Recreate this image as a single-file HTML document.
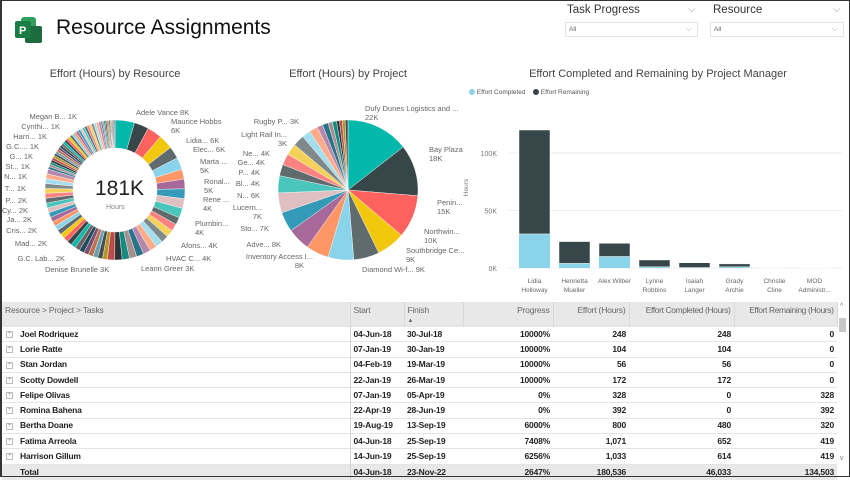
<!DOCTYPE html>
<html><head><meta charset="utf-8">
<style>
*{box-sizing:border-box;margin:0;padding:0}
body{width:850px;height:477px;overflow:hidden;background:#fff;font-family:"Liberation Sans",sans-serif;position:relative;color:#333}
#frame{position:absolute;left:0;top:0;width:850px;height:477px;border:1px solid #333;border-left:2px solid #333;z-index:5;pointer-events:none}
.abs{position:absolute;white-space:nowrap}
.lbl{position:absolute;font-size:7.5px;color:#666;white-space:nowrap;line-height:9px}
.r{text-align:right}
.ctitle{position:absolute;font-size:11px;color:#444;white-space:nowrap;transform:translateX(-50%)}
table{position:absolute;left:2px;top:302px;width:835px;border-collapse:collapse;table-layout:fixed;font-family:"Liberation Sans Narrow","Liberation Sans",sans-serif;font-size:8.5px;letter-spacing:-0.2px}
th{background:#e8e8e8;color:#666;font-weight:normal;height:22px;text-align:right;padding:0 3px;vertical-align:top;padding-top:4px;border-right:1px solid #d8d8d8;white-space:nowrap;overflow:hidden;line-height:9px}
td{height:15.3px;line-height:13px;text-align:right;padding:0 3px;font-weight:bold;color:#222;border-top:1px solid #e4e4e4;white-space:nowrap;overflow:hidden}
td.n{text-align:left;padding-left:18px;position:relative;border-right:1px solid #d0d0d0}
td.d{text-align:left}
th.l{text-align:left}
.plus{position:absolute;left:4px;top:4px;width:7px;height:7px;border:1px solid #bbb;font-size:6px;line-height:5px;text-align:center;color:#999;font-weight:normal}
tr.tot td{background:#e8e8e8;height:16px}
</style></head><body>
<div id="frame"></div>

<svg class="abs" style="left:15px;top:17px" width="28" height="27">
<rect x="6" y="0" width="15" height="14" rx="3" fill="#31a05f"/>
<rect x="10" y="9" width="17" height="17" rx="2" fill="#1e6b3f"/>
<rect x="0" y="4" width="16" height="17" rx="2" fill="#1a7d45"/>
<text x="4" y="17" font-size="11" font-weight="bold" fill="#fff" font-family="Liberation Sans">P</text>
</svg>
<div class="abs" style="left:56px;top:16px;font-size:21px;color:#111">Resource Assignments</div>

<div class="abs" style="left:567px;top:4px;font-size:11.5px;color:#333">Task Progress</div>
<div class="abs" style="left:688px;top:4px;font-size:10px;color:#999">⌵</div>
<div class="abs" style="left:565px;top:22px;width:133px;height:15px;border:1px solid #e4e4e4;font-size:6.5px;color:#666;padding:3px 3px">All<span style="position:absolute;right:5px;top:1px;font-size:8px;color:#aaa">⌵</span></div>
<div class="abs" style="left:713px;top:4px;font-size:11.5px;color:#333">Resource</div>
<div class="abs" style="left:833px;top:4px;font-size:10px;color:#999">⌵</div>
<div class="abs" style="left:710px;top:22px;width:134px;height:15px;border:1px solid #e4e4e4;font-size:6.5px;color:#666;padding:3px 3px">All<span style="position:absolute;right:5px;top:1px;font-size:8px;color:#aaa">⌵</span></div>

<div class="ctitle" style="left:115px;top:68px">Effort (Hours) by Resource</div>
<div class="ctitle" style="left:348px;top:68px">Effort (Hours) by Project</div>
<div class="ctitle" style="left:658px;top:68px">Effort Completed and Remaining by Project Manager</div>

<svg id="charts" class="abs" style="left:0;top:0" width="850" height="300"></svg>

<div class="abs" style="left:95px;top:177px;font-size:21px;color:#222">181K</div>
<div class="abs" style="left:106px;top:204px;font-size:7px;color:#888">Hours</div>

<div class="lbl r" style="right:773px;top:112px">Megan B... 1K</div>
<div class="lbl r" style="right:790px;top:122px">Cynthi... 1K</div>
<div class="lbl r" style="right:803px;top:132px">Harri... 1K</div>
<div class="lbl r" style="right:811px;top:142px">G.C.... 1K</div>
<div class="lbl r" style="right:817px;top:152px">G... 1K</div>
<div class="lbl r" style="right:820px;top:162px">St... 1K</div>
<div class="lbl r" style="right:823px;top:172px">N... 1K</div>
<div class="lbl r" style="right:824px;top:184px">T... 1K</div>
<div class="lbl r" style="right:823px;top:196px">P... 2K</div>
<div class="lbl r" style="right:822px;top:206px">Cy... 2K</div>
<div class="lbl r" style="right:818px;top:215px">Ja... 2K</div>
<div class="lbl r" style="right:813px;top:226px">Cris... 2K</div>
<div class="lbl r" style="right:803px;top:239px">Mad... 2K</div>
<div class="lbl r" style="right:785px;top:254px">G.C. Lab... 2K</div>
<div class="lbl" style="left:45px;top:265px">Denise Brunelle 3K</div>
<div class="lbl" style="left:136px;top:108px">Adele Vance 8K</div>
<div class="lbl" style="left:171px;top:117px">Maurice Hobbs<br>6K</div>
<div class="lbl" style="left:186px;top:136px">Lidia... 6K</div>
<div class="lbl" style="left:193px;top:145px">Elec... 6K</div>
<div class="lbl" style="left:200px;top:157px">Marta ...<br>5K</div>
<div class="lbl" style="left:204px;top:177px">Ronal...<br>5K</div>
<div class="lbl" style="left:203px;top:195px">Rene ...<br>4K</div>
<div class="lbl" style="left:195px;top:219px">Plumbin...<br>4K</div>
<div class="lbl" style="left:181px;top:241px">Afons... 4K</div>
<div class="lbl" style="left:166px;top:254px">HVAC C... 4K</div>
<div class="lbl" style="left:141px;top:264px">Leann Greer 3K</div>
<div class="lbl" style="left:365px;top:104px">Dufy Dunes Logistics and ...<br>22K</div>
<div class="lbl" style="left:429px;top:145px">Bay Plaza<br>18K</div>
<div class="lbl" style="left:437px;top:198px">Penin...<br>15K</div>
<div class="lbl" style="left:424px;top:227px">Northwin...<br>10K</div>
<div class="lbl" style="left:406px;top:246px">Southbridge Ce...<br>9K</div>
<div class="lbl" style="left:362px;top:265px">Diamond Wi-f... 9K</div>
<div class="lbl r" style="right:537px;top:252px">Inventory Access I...<br><span style="margin-right:9px">8K</span></div>
<div class="lbl r" style="right:569px;top:240px">Adve... 8K</div>
<div class="lbl r" style="right:581px;top:224px">Sto... 7K</div>
<div class="lbl r" style="right:588px;top:203px">Lucern...<br>7K</div>
<div class="lbl r" style="right:590px;top:191px">N... 6K</div>
<div class="lbl r" style="right:590px;top:179px">Bl... 4K</div>
<div class="lbl r" style="right:590px;top:168px">P... 4K</div>
<div class="lbl r" style="right:585px;top:158px">Ge... 4K</div>
<div class="lbl r" style="right:580px;top:149px">Ne... 4K</div>
<div class="lbl r" style="right:563px;top:130px">Light Rail In...<br>3K</div>
<div class="lbl r" style="right:551px;top:117px">Rugby P... 3K</div>

<div class="abs" style="left:469px;top:89px;font-size:6.5px;color:#555"><span style="display:inline-block;width:6px;height:6px;border-radius:3px;background:#8ad4eb;vertical-align:-1px"></span> Effort Completed</div>
<div class="abs" style="left:533px;top:89px;font-size:6.5px;color:#555"><span style="display:inline-block;width:6px;height:6px;border-radius:3px;background:#374649;vertical-align:-1px"></span> Effort Remaining</div>
<div class="abs" style="left:458px;top:184px;font-size:6.5px;color:#777;transform:rotate(-90deg)">Hours</div>

<table>
<colgroup><col style="width:348px"><col style="width:54px"><col style="width:59px"><col style="width:90px"><col style="width:76px"><col style="width:105px"><col style="width:103px"></colgroup>
<tr><th class="l">Resource &gt; Project &gt; Tasks</th><th class="l">Start</th><th class="l">Finish<br><span style="font-size:6px">▲</span></th><th>Progress</th><th>Effort (Hours)</th><th style="letter-spacing:-0.4px">Effort Completed (Hours)</th><th style="letter-spacing:-0.4px">Effort Remaining (Hours)</th></tr>
<tr><td class="n"><span class="plus">+</span>Joel Rodriquez</td><td class="d">04-Jun-18</td><td class="d">30-Jul-18</td><td>10000%</td><td>248</td><td>248</td><td>0</td></tr>
<tr><td class="n"><span class="plus">+</span>Lorie Ratte</td><td class="d">07-Jan-19</td><td class="d">30-Jan-19</td><td>10000%</td><td>104</td><td>104</td><td>0</td></tr>
<tr><td class="n"><span class="plus">+</span>Stan Jordan</td><td class="d">04-Feb-19</td><td class="d">19-Mar-19</td><td>10000%</td><td>56</td><td>56</td><td>0</td></tr>
<tr><td class="n"><span class="plus">+</span>Scotty Dowdell</td><td class="d">22-Jan-19</td><td class="d">26-Mar-19</td><td>10000%</td><td>172</td><td>172</td><td>0</td></tr>
<tr><td class="n"><span class="plus">+</span>Felipe Olivas</td><td class="d">07-Jan-19</td><td class="d">05-Apr-19</td><td>0%</td><td>328</td><td>0</td><td>328</td></tr>
<tr><td class="n"><span class="plus">+</span>Romina Bahena</td><td class="d">22-Apr-19</td><td class="d">28-Jun-19</td><td>0%</td><td>392</td><td>0</td><td>392</td></tr>
<tr><td class="n"><span class="plus">+</span>Bertha Doane</td><td class="d">19-Aug-19</td><td class="d">13-Sep-19</td><td>6000%</td><td>800</td><td>480</td><td>320</td></tr>
<tr><td class="n"><span class="plus">+</span>Fatima Arreola</td><td class="d">04-Jun-18</td><td class="d">25-Sep-19</td><td>7408%</td><td>1,071</td><td>652</td><td>419</td></tr>
<tr><td class="n"><span class="plus">+</span>Harrison Gillum</td><td class="d">14-Jun-19</td><td class="d">25-Sep-19</td><td>6256%</td><td>1,033</td><td>614</td><td>419</td></tr>
<tr class="tot"><td class="n">Total</td><td class="d">04-Jun-18</td><td class="d">23-Nov-22</td><td>2647%</td><td>180,536</td><td>46,033</td><td>134,503</td></tr>
</table>
<div class="abs" style="left:839px;top:318px;width:7px;height:14px;background:#c8c8c8"></div>
<div class="abs" style="left:840px;top:303px;font-size:7px;color:#777">^</div>
<div class="abs" style="left:840px;top:455px;font-size:7px;color:#777">v</div>

<script>
const palette=["#01B8AA","#374649","#FD625E","#F2C80F","#5F6B6D","#8AD4EB","#FE9666","#A66999","#3599B8","#DFBFBF","#4AC5BB","#5F6B6D","#FB8281","#F4D25A","#7F898A","#A4DDEE","#FDAB89","#B687AC","#28738A","#A78F8F","#168980","#293537","#BB4A4A","#B59525","#475052","#6A9FB0","#BD7150","#7B4F71","#1B4D5C","#706060"];
const resourceValues=[8,6,6,6,5,5,4,4,4,4,4,3,3,3,3,3,3,3,3,3,3,3,3,2,2,2,2,2,2,2,2,2,2,2,2,2,2,2,2,2,2,2,2,2,2,2,2,2,1,1,1,1,1,1,1,1,1,1,1,1,1,1,1,1,1,1,1,1,1,1,1,1,1,1,1,1,1,1,0.6,0.6,0.6,0.5,0.5,0.5,0.5,0.4,0.4,0.4,0.4,0.4];
const projectValues=[22,18,15,10,9,9,8,8,7,7,6,4,4,4,4,3,3,2,2,1.5,1.5,1,1,1,1];
const managers=[["Lidia","Holloway"],["Henrietta","Mueller"],["Alex Wilber",""],["Lynne","Robbins"],["Isaiah","Langer"],["Grady","Archie"],["Christie","Cline"],["MOD","Administr..."]];
const completed=[29.6,4,10,1,0.4,1,0.2,0.1];
const remaining=[90.4,19,11.5,6,4.2,2.6,0.4,0.3];
const yTicks=[0,50,100];

const NS="http://www.w3.org/2000/svg";
const svg=document.getElementById('charts');
function mk(t,a){const e=document.createElementNS(NS,t);for(const k in a)e.setAttribute(k,a[k]);svg.appendChild(e);return e;}
function arcPath(cx,cy,r0,r1,a0,a1){
  const p=(r,a)=>[cx+r*Math.sin(a),cy-r*Math.cos(a)];
  const big=(a1-a0)>Math.PI?1:0;
  const [x1,y1]=p(r1,a0),[x2,y2]=p(r1,a1);
  if(r0<=0)return `M${cx},${cy}L${x1},${y1}A${r1},${r1} 0 ${big} 1 ${x2},${y2}Z`;
  const [x3,y3]=p(r0,a1),[x4,y4]=p(r0,a0);
  return `M${x1},${y1}A${r1},${r1} 0 ${big} 1 ${x2},${y2}L${x3},${y3}A${r0},${r0} 0 ${big} 0 ${x4},${y4}Z`;
}
function drawPie(vals,cx,cy,r0,r1,name){
  const tot=vals.reduce((a,b)=>a+b,0);let a=0;
  vals.forEach((v,i)=>{
    const a1=a+v/tot*Math.PI*2;
    const el=mk('path',{d:arcPath(cx,cy,r0,r1,a,a1),fill:palette[i%palette.length],stroke:'#fff','stroke-width':0.4});
    
    
    a=a1;
  });
}
drawPie(resourceValues,115,190,42,70,'resource');
drawPie(projectValues,348,190,0,70,'project');

const y0=268, pxPerK=1.15;
const yScale=v=>y0-v*pxPerK;
const xScale=i=>519+i*40;
const bw=31;
yTicks.forEach(t=>{
  const g=mk('line',{x1:508,x2:842,y1:yScale(t),y2:yScale(t),stroke:'#eee','stroke-width':1});
  
  
  const tx=mk('text',{x:497,y:yScale(t)+3,'text-anchor':'end','font-size':7,fill:'#777','font-family':'Liberation Sans'});
  tx.textContent=t+'K';
  
  
});
managers.forEach((m,i)=>{
  const x=xScale(i);
  const r1=mk('rect',{x:x,y:yScale(completed[i]),width:bw,height:completed[i]*pxPerK,fill:'#8AD4EB'});
  
  
  const r2=mk('rect',{x:x,y:yScale(completed[i]+remaining[i]),width:bw,height:remaining[i]*pxPerK,fill:'#374649',stroke:'#fff','stroke-width':0.5});
  
  
  m.forEach((ln,j)=>{
    if(!ln)return;
    const t=mk('text',{x:x+bw/2,y:283+j*9,'text-anchor':'middle','font-size':6.5,fill:'#666','font-family':'Liberation Sans'});
    t.textContent=ln;
    
    
  });
});
</script>
</body></html>
